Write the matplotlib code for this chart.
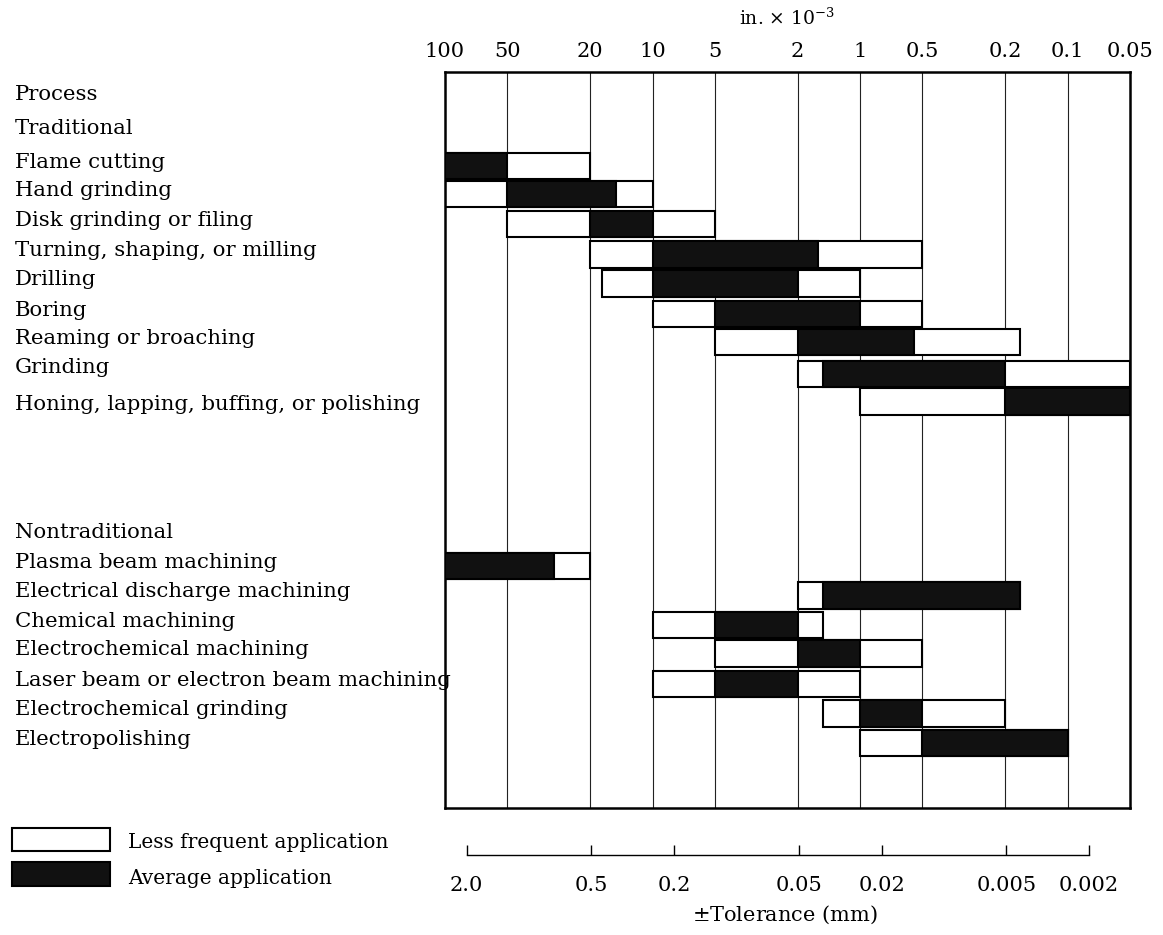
import matplotlib
matplotlib.use("Agg")
import matplotlib.pyplot as plt
from matplotlib.patches import Rectangle
from matplotlib import transforms

# tolerances in in. x 10^-3 (larger value = coarser)
TRAD_NAMES = ["Flame cutting", "Hand grinding", "Disk grinding or filing",
              "Turning, shaping, or milling", "Drilling", "Boring",
              "Reaming or broaching", "Grinding",
              "Honing, lapping, buffing, or polishing"]
TRAD_LESS_FROM = [100, 100, 50, 20, 17.5, 10, 5, 2, 1]
TRAD_LESS_TO = [20, 10, 5, 0.5, 1, 0.5, 0.17, 0.05, 0.05]
TRAD_AVG_FROM = [100, 50, 20, 10, 10, 5, 2, 1.5, 0.2]
TRAD_AVG_TO = [50, 15, 10, 1.6, 2, 1, 0.55, 0.2, 0.05]

NONTRAD_NAMES = ["Plasma beam machining", "Electrical discharge machining",
                 "Chemical machining", "Electrochemical machining",
                 "Laser beam or electron beam machining",
                 "Electrochemical grinding", "Electropolishing"]
NONTRAD_LESS_FROM = [100, 2, 10, 5, 10, 1.5, 1]
NONTRAD_LESS_TO = [20, 0.17, 1.5, 0.5, 1, 0.2, 0.1]
NONTRAD_AVG_FROM = [100, 1.5, 5, 2, 5, 1, 0.5]
NONTRAD_AVG_TO = [30, 0.17, 2, 1, 2, 0.5, 0.1]

INCH_TICKS = [100, 50, 20, 10, 5, 2, 1, 0.5, 0.2, 0.1, 0.05]
INCH_LABELS = ["100", "50", "20", "10", "5", "2", "1", "0.5", "0.2", "0.1", "0.05"]
MM_TICKS = [2.0, 0.5, 0.2, 0.05, 0.02, 0.005, 0.002]
MM_LABELS = ["2.0", "0.5", "0.2", "0.05", "0.02", "0.005", "0.002"]

FONT = "DejaVu Serif"
FS = 15
BAR_H = 0.88

plt.rcParams["font.family"] = FONT
plt.rcParams["mathtext.fontset"] = "dejavuserif"


def main():
    W, H = 1163, 935
    fig = plt.figure(figsize=(W / 100, H / 100), dpi=100)
    fig.set_facecolor("white")

    left, right, top, bottom = 445, 1130, 72, 808
    ax = fig.add_axes([left / W, 1 - bottom / H, (right - left) / W, (bottom - top) / H])

    trad_y = [0, 0.95, 1.95, 2.97, 3.95, 4.97, 5.93, 6.98, 7.92]
    nontrad_y = [13.45, 14.45, 15.43, 16.4, 17.42, 18.42, 19.42]
    # label nudges (labels sit a little off the bar centres in the print)
    trad_dy = [-0.12, -0.12, -0.12, -0.12, -0.12, -0.12, -0.12, -0.2, 0.1]

    ax.set_xscale("log")
    ax.set_xlim(100, 0.05)
    ax.set_ylim(21.6, -3.17)

    for v in INCH_TICKS[1:-1]:
        ax.axvline(v, color="#222222", lw=0.8, zorder=1)

    def draw_rows(ys, lf, lt, af, at):
        for y, a, b, c, d in zip(ys, lf, lt, af, at):
            ax.barh(y, b - a, left=a, height=BAR_H, color="white",
                    edgecolor="black", lw=1.5, zorder=2)
            ax.barh(y, d - c, left=c, height=BAR_H, color="#111111",
                    edgecolor="black", lw=1.5, zorder=3)

    draw_rows(trad_y, TRAD_LESS_FROM, TRAD_LESS_TO, TRAD_AVG_FROM, TRAD_AVG_TO)
    draw_rows(nontrad_y, NONTRAD_LESS_FROM, NONTRAD_LESS_TO, NONTRAD_AVG_FROM, NONTRAD_AVG_TO)

    ax.xaxis.tick_top()
    ax.set_xticks(INCH_TICKS)
    ax.set_xticklabels(INCH_LABELS)
    ax.xaxis.set_minor_locator(matplotlib.ticker.NullLocator())
    ax.tick_params(axis="x", length=0, pad=8, labelsize=FS)
    ax.set_yticks([])
    for s in ax.spines.values():
        s.set_linewidth(1.8)

    # row labels on the left
    trans = transforms.blended_transform_factory(fig.transFigure, ax.transData)
    x0 = 15 / W
    lfs = FS + 0.3
    ax.text(x0, -2.42, "Process", transform=trans, fontsize=lfs, va="center", clip_on=False)
    ax.text(x0, -1.28, "Traditional", transform=trans, fontsize=lfs, va="center", clip_on=False)
    ax.text(x0, 12.32, "Nontraditional", transform=trans, fontsize=lfs, va="center", clip_on=False)
    for y, dy, name in zip(trad_y, trad_dy, TRAD_NAMES):
        ax.text(x0, y + dy, name, transform=trans, fontsize=lfs, va="center", clip_on=False, zorder=5)
    for y, name in zip(nontrad_y, NONTRAD_NAMES):
        ax.text(x0, y - 0.12, name, transform=trans, fontsize=lfs, va="center", clip_on=False, zorder=5)

    fig.text(787 / W, 1 - 18 / H, r"in. $\times$ 10$^{-3}$", fontsize=FS - 1.5,
             ha="center", va="center")

    # mm scale below
    ax2 = fig.add_axes([left / W, 1 - 855 / H, (right - left) / W, 0.0001])
    ax2.set_xscale("log")
    ax2.set_xlim(100, 0.05)
    mm_in = [v / 25.4 * 1000 for v in MM_TICKS]
    ax2.set_xticks(mm_in)
    ax2.set_xticklabels(MM_LABELS)
    ax2.xaxis.set_minor_locator(matplotlib.ticker.NullLocator())
    ax2.set_yticks([])
    for k in ["top", "left", "right"]:
        ax2.spines[k].set_visible(False)
    ax2.spines["bottom"].set_bounds(mm_in[0], mm_in[-1])
    ax2.spines["bottom"].set_linewidth(1.0)
    ax2.tick_params(axis="x", direction="in", length=7, width=1.0, pad=15, labelsize=FS)
    ax2.patch.set_alpha(0)
    fig.text(785 / W, 1 - 915 / H, r"$\pm$Tolerance (mm)", fontsize=FS,
             ha="center", va="center")

    # legend
    fig.add_artist(Rectangle((12 / W, 1 - 851 / H), 98 / W, 23 / H, facecolor="white",
                             edgecolor="black", lw=1.5, transform=fig.transFigure))
    fig.add_artist(Rectangle((12 / W, 1 - 886 / H), 98 / W, 24 / H, facecolor="#111111",
                             edgecolor="black", lw=1.5, transform=fig.transFigure))
    fig.text(128 / W, 1 - 842 / H, "Less frequent application", fontsize=FS - 0.5, va="center")
    fig.text(128 / W, 1 - 878 / H, "Average application", fontsize=FS - 0.5, va="center")

    plt.savefig("out.png", dpi=100)


if __name__ == "__main__":
    main()
